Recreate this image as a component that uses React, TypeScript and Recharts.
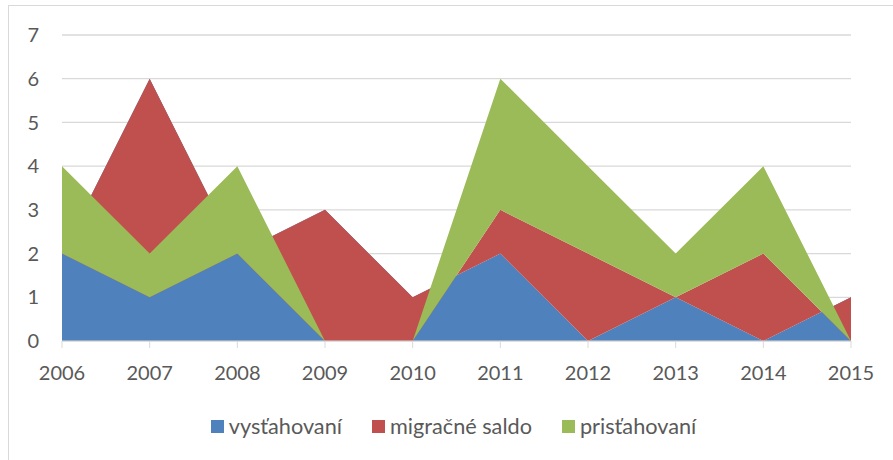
import React from "react";
import { AreaChart, Area, XAxis, YAxis, CartesianGrid, Legend } from "recharts";

const years = ["2006", "2007", "2008", "2009", "2010", "2011", "2012", "2013", "2014", "2015"];
const vystahovani = [2, 6, 2, 3, 1, 2, 0, 1, 0, 1];
const migracneSaldo = [0, -5, 0, -3, -1, 1, 2, 0, 2, -1];
const pristahovani = [2, 1, 2, 0, 0, 3, 2, 1, 2, 0];
const yTicks = [0, 1, 2, 3, 4, 5, 6, 7];

const seriesNames = ["vysťahovaní", "migračné saldo", "prisťahovaní"];
const seriesColors = ["#4F81BD", "#C0504D", "#9BBB59"];

const data = years.map((y, i) => ({
  year: y,
  vyst: vystahovani[i],
  saldo: migracneSaldo[i],
  prist: pristahovani[i],
}));

const FONT = "Lato, 'Open Sans', sans-serif";
const TEXT = "#595959";

const LegendContent = () => (
  <div
    style={{
      display: "flex",
      justifyContent: "center",
      alignItems: "center",
      height: 30,
      fontFamily: FONT,
      fontSize: 21.7,
      color: TEXT,
      paddingLeft: 56,
    }}
  >
    {seriesNames.map((n, i) => (
      <div key={n} style={{ display: "flex", alignItems: "center", marginRight: i < 2 ? 30 : 0 }}>
        <span
          style={{
            display: "inline-block",
            width: 13,
            height: 13,
            background: seriesColors[i],
            marginRight: 5,
          }}
        />
        <span>{n}</span>
      </div>
    ))}
  </div>
);

export default function App() {
  return (
    <div style={{ position: "absolute", left: 0, top: 0, width: 893, height: 460, overflow: "hidden", background: "#fff" }}>
      <div
        style={{
          position: "absolute",
          left: 8,
          top: 5,
          width: 900,
          height: 470,
          border: "1px solid #D9D9D9",
          boxSizing: "border-box",
        }}
      />
      <AreaChart
        width={893}
        height={460}
        data={data}
        margin={{ top: 35, right: 42, left: 0, bottom: 54 }}
        style={{ position: "absolute", left: 0, top: 0 }}
      >
        <CartesianGrid vertical={false} stroke="#D9D9D9" strokeWidth={1.3} />
        <XAxis
          dataKey="year"
          height={35}
          stroke="#D9D9D9"
          tickSize={7}
          tickMargin={18}
          tick={{ fill: TEXT, fontFamily: FONT, fontSize: 20 }}
          interval={0}
        />
        <YAxis
          width={62}
          domain={[0, 7]}
          ticks={yTicks}
          axisLine={false}
          tickLine={false}
          tickSize={0}
          tickMargin={23}
          tick={{ fill: TEXT, fontFamily: FONT, fontSize: 20 }}
          interval={0}
        />
        <Area
          type="linear"
          dataKey="vyst"
          name={seriesNames[0]}
          stackId="1"
          stroke="none"
          fill={seriesColors[0]}
          fillOpacity={1}
          isAnimationActive={false}
        />
        <Area
          type="linear"
          dataKey="saldo"
          name={seriesNames[1]}
          stackId="1"
          stroke="none"
          fill={seriesColors[1]}
          fillOpacity={1}
          isAnimationActive={false}
        />
        <Area
          type="linear"
          dataKey="prist"
          name={seriesNames[2]}
          stackId="1"
          stroke="none"
          fill={seriesColors[2]}
          fillOpacity={1}
          isAnimationActive={false}
        />
        <Legend verticalAlign="bottom" content={<LegendContent />} wrapperStyle={{ bottom: 19 }} />
      </AreaChart>
    </div>
  );
}
